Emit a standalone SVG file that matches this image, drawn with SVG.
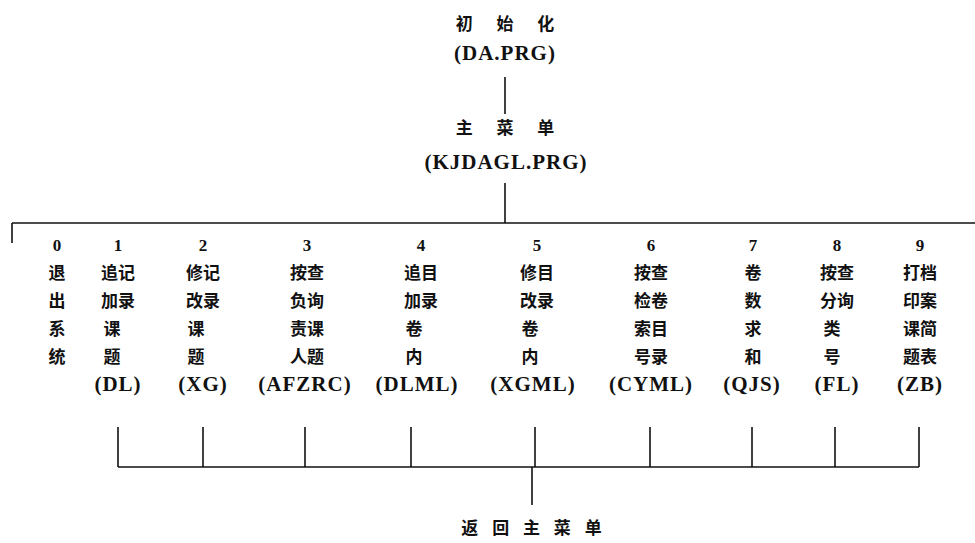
<svg xmlns="http://www.w3.org/2000/svg" width="975" height="543" viewBox="0 0 975 543">
<style>
.cn{font-family:"Noto Sans CJK SC","Noto Sans CJK TC",sans-serif;font-weight:bold;font-size:17px;fill:#111;text-anchor:middle}
.sp{letter-spacing:10px}
.sp2{letter-spacing:5px}
.en{font-family:"Liberation Serif",serif;font-weight:bold;font-size:21px;fill:#111;text-anchor:middle;letter-spacing:1px}
.num{font-family:"Liberation Serif",serif;font-weight:bold;font-size:17px;fill:#111;text-anchor:middle}
.ln{stroke:#111;stroke-width:1.6;fill:none}
</style>
<rect width="975" height="543" fill="#fff"/>
<g id="init">
<text class="cn sp" x="510" y="30">初 始 化</text>
<text class="en" x="505" y="60">(DA.PRG)</text>
</g>
<g id="main">
<text class="cn sp" x="510" y="134">主 菜 单</text>
<text class="en" x="506" y="169">(KJDAGL.PRG)</text>
</g>
<g id="m0">
<text class="num" x="57" y="251">0</text>
<text class="cn" x="57" y="279">退</text>
<text class="cn" x="57" y="307">出</text>
<text class="cn" x="57" y="335">系</text>
<text class="cn" x="57" y="363">统</text>
</g>
<g id="m1">
<text class="num" x="118" y="251">1</text>
<text class="cn" x="118" y="279">追记</text>
<text class="cn" x="118" y="307">加录</text>
<text class="cn" x="112" y="335">课</text>
<text class="cn" x="112" y="363">题</text>
<text class="en" x="118" y="391">(DL)</text>
</g>
<g id="m2">
<text class="num" x="203" y="251">2</text>
<text class="cn" x="203" y="279">修记</text>
<text class="cn" x="203" y="307">改录</text>
<text class="cn" x="196" y="335">课</text>
<text class="cn" x="196" y="363">题</text>
<text class="en" x="203" y="391">(XG)</text>
</g>
<g id="m3">
<text class="num" x="307" y="251">3</text>
<text class="cn" x="307" y="279">按查</text>
<text class="cn" x="307" y="307">负询</text>
<text class="cn" x="307" y="335">责课</text>
<text class="cn" x="307" y="363">人题</text>
<text class="en" x="305" y="391">(AFZRC)</text>
</g>
<g id="m4">
<text class="num" x="421" y="251">4</text>
<text class="cn" x="421" y="279">追目</text>
<text class="cn" x="421" y="307">加录</text>
<text class="cn" x="414" y="335">卷</text>
<text class="cn" x="414" y="363">内</text>
<text class="en" x="417" y="391">(DLML)</text>
</g>
<g id="m5">
<text class="num" x="537" y="251">5</text>
<text class="cn" x="537" y="279">修目</text>
<text class="cn" x="537" y="307">改录</text>
<text class="cn" x="530" y="335">卷</text>
<text class="cn" x="530" y="363">内</text>
<text class="en" x="533" y="391">(XGML)</text>
</g>
<g id="m6">
<text class="num" x="651" y="251">6</text>
<text class="cn" x="651" y="279">按查</text>
<text class="cn" x="651" y="307">检卷</text>
<text class="cn" x="651" y="335">索目</text>
<text class="cn" x="651" y="363">号录</text>
<text class="en" x="651" y="391">(CYML)</text>
</g>
<g id="m7">
<text class="num" x="753" y="251">7</text>
<text class="cn" x="753" y="279">卷</text>
<text class="cn" x="753" y="307">数</text>
<text class="cn" x="753" y="335">求</text>
<text class="cn" x="753" y="363">和</text>
<text class="en" x="752" y="391">(QJS)</text>
</g>
<g id="m8">
<text class="num" x="837" y="251">8</text>
<text class="cn" x="837" y="279">按查</text>
<text class="cn" x="837" y="307">分询</text>
<text class="cn" x="832" y="335">类</text>
<text class="cn" x="832" y="363">号</text>
<text class="en" x="837" y="391">(FL)</text>
</g>
<g id="m9">
<text class="num" x="920" y="251">9</text>
<text class="cn" x="920" y="279">打档</text>
<text class="cn" x="920" y="307">印案</text>
<text class="cn" x="920" y="335">课简</text>
<text class="cn" x="920" y="363">题表</text>
<text class="en" x="920" y="391">(ZB)</text>
</g>
<g id="back">
<text class="cn sp2" x="534" y="534">返 回 主 菜 单</text>
</g>
<g id="connectors" class="ln">
<line x1="505" y1="77" x2="505" y2="114"/>
<line x1="505" y1="183" x2="505" y2="223"/>
<line x1="12" y1="223" x2="975" y2="223"/>
<line x1="12" y1="223" x2="12" y2="243"/>
<line x1="118" y1="427" x2="118" y2="467"/>
<line x1="203" y1="427" x2="203" y2="467"/>
<line x1="305" y1="427" x2="305" y2="467"/>
<line x1="411" y1="427" x2="411" y2="467"/>
<line x1="535" y1="427" x2="535" y2="467"/>
<line x1="650" y1="427" x2="650" y2="467"/>
<line x1="752" y1="427" x2="752" y2="467"/>
<line x1="835" y1="427" x2="835" y2="467"/>
<line x1="919" y1="427" x2="919" y2="467"/>
<line x1="118" y1="467" x2="919" y2="467"/>
<line x1="532" y1="467" x2="532" y2="505"/>
</g>
</svg>
